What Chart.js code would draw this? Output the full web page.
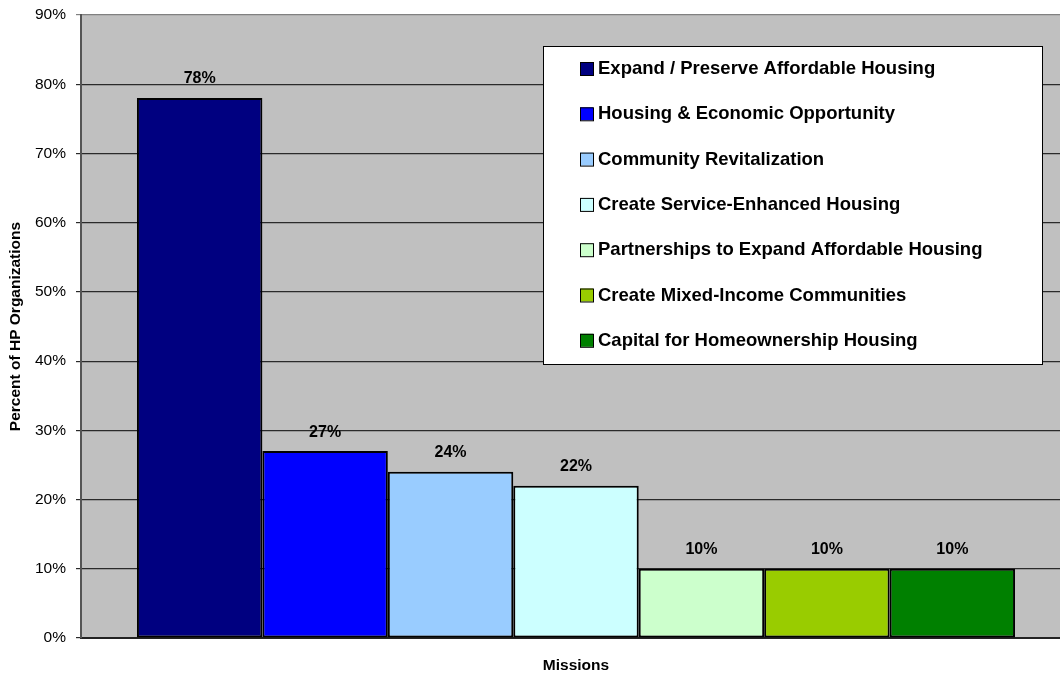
<!DOCTYPE html>
<html>
<head>
  <meta charset="UTF-8">
  <title>HP Organization Missions</title>
  <script src="https://cdn.jsdelivr.net/npm/chart.js"></script>
  <style>
    html, body { margin: 0; padding: 0; background: #fff; overflow: hidden; }
    #chart { display: block; }
  </style>
</head>
<body>
  <canvas id="chart" width="1071" height="675"></canvas>
  <script>
    const missions = [
      'Expand / Preserve Affordable Housing',
      'Housing & Economic Opportunity',
      'Community Revitalization',
      'Create Service-Enhanced Housing',
      'Partnerships to Expand Affordable Housing',
      'Create Mixed-Income Communities',
      'Capital for Homeownership Housing'
    ];
    const percents = [78, 27, 24, 22, 10, 10, 10];
    const barColors = ['#000080', '#0000FF', '#99CCFF', '#CCFFFF', '#CCFFCC', '#99CC00', '#008000'];
    const yTicks = [0, 10, 20, 30, 40, 50, 60, 70, 80, 90];

    const FONT = 'Arial, "Liberation Sans", sans-serif';

    // grey plot background
    const plotBg = {
      id: 'plotBg',
      beforeDraw(chart) {
        const { ctx, chartArea: a } = chart;
        ctx.save();
        ctx.fillStyle = '#C0C0C0';
        ctx.fillRect(a.left, a.top, a.right - a.left, a.bottom - a.top);
        ctx.restore();
      }
    };

    // value labels above each bar
    const valueLabels = {
      id: 'valueLabels',
      afterDatasetsDraw(chart) {
        const { ctx } = chart;
        ctx.save();
        ctx.font = 'bold 16px ' + FONT;
        ctx.fillStyle = '#000';
        ctx.textAlign = 'center';
        ctx.textBaseline = 'middle';
        chart.data.datasets.forEach((ds, i) => {
          const bar = chart.getDatasetMeta(i).data[0];
          ctx.fillText(ds.data[0] + '%', bar.x, bar.y - 19);
        });
        ctx.restore();
      }
    };

    // boxed legend inside the plot
    const boxLegend = {
      id: 'boxLegend',
      afterDatasetsDraw(chart, args, opts) {
        const { ctx } = chart;
        ctx.save();
        ctx.fillStyle = '#fff';
        ctx.fillRect(opts.x, opts.y, opts.w, opts.h);
        ctx.strokeStyle = '#000';
        ctx.lineWidth = 1;
        ctx.strokeRect(opts.x + 0.5, opts.y + 0.5, opts.w, opts.h);
        ctx.font = 'bold 18.5px ' + FONT;
        ctx.textBaseline = 'middle';
        chart.data.datasets.forEach((ds, i) => {
          const cy = opts.y + opts.first + i * opts.step;
          const bx = opts.x + 37;
          ctx.fillStyle = ds.backgroundColor;
          ctx.fillRect(bx, cy - 7, 13, 13);
          ctx.strokeStyle = '#000';
          ctx.strokeRect(bx + 0.5, cy - 6.5, 13, 13);
          ctx.fillStyle = '#000';
          ctx.fillText(ds.label, bx + 18, cy);
        });
        ctx.restore();
      }
    };

    new Chart(document.getElementById('chart').getContext('2d'), {
      type: 'bar',
      data: {
        labels: [''],
        datasets: missions.map((m, i) => ({
          label: m,
          data: [percents[i]],
          backgroundColor: barColors[i],
          borderColor: '#000',
          borderWidth: 2,
          borderSkipped: false
        }))
      },
      options: {
        responsive: false,
        animation: false,
        layout: { padding: { top: 15, right: 0, left: 0, bottom: 0 } },
        datasets: { bar: { categoryPercentage: 0.887, barPercentage: 1 } },
        plugins: {
          legend: { display: false },
          tooltip: { enabled: false },
          boxLegend: { x: 543, y: 46, w: 499, h: 318, first: 23, step: 45.3 }
        },
        scales: {
          x: {
            ticks: { display: false },
            grid: { display: false, drawTicks: false },
            border: { color: '#222', width: 2 },
            title: {
              display: true, text: 'Missions', color: '#000',
              font: { family: FONT, size: 15.5, weight: 'bold' },
              padding: { top: 0, bottom: 0 }
            },
            afterFit(scale) { scale.height = 37; }
          },
          y: {
            min: yTicks[0],
            max: yTicks[yTicks.length - 1],
            afterBuildTicks(scale) { scale.ticks = yTicks.map(v => ({ value: v })); },
            ticks: {
              color: '#000', padding: 10,
              font: { family: FONT, size: 15.5 },
              callback: v => v + '%'
            },
            grid: {
              color: ctx => ctx.tick && ctx.tick.value === 90 ? '#808080' : '#2a2a2a',
              lineWidth: 1.2, tickLength: 5
            },
            border: { color: '#555', width: 2 },
            title: {
              display: true, text: 'Percent of HP Organizations', color: '#000',
              font: { family: FONT, size: 15.5, weight: 'bold' },
              padding: { top: 6, bottom: 0 }
            },
            afterFit(scale) {
              scale.width = 81;
              scale.paddingTop = 0;
              scale.paddingBottom = 0;
            }
          }
        }
      },
      plugins: [plotBg, valueLabels, boxLegend]
    });
  </script>
</body>
</html>
